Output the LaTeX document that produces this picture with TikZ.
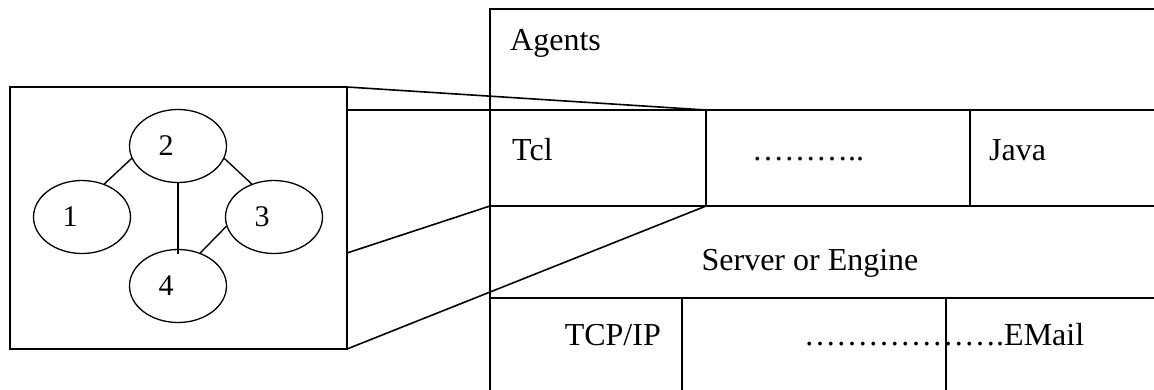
\documentclass[tikz,border=0pt]{standalone}
\usepackage{fontspec}
\setmainfont{Liberation Serif}
\usetikzlibrary{shapes.geometric}

\tikzset{
  frame/.style={line width=1.6pt, line cap=rect},
  blob/.style={draw, ellipse, line width=1.3pt, minimum width=97pt, minimum height=73pt, inner sep=0pt},
  link/.style={line width=1.4pt},
  digit/.style={inner sep=0pt, font=\fontsize{30}{34}\selectfont},
  cell/.style={inner sep=0pt, font=\fontsize{32}{37}\selectfont}
}

\begin{document}
\begin{tikzpicture}[x=1pt, y=-1pt]
  \useasboundingbox (0,0) rectangle (1154,389);

  % ---- layered architecture on the right ----
  \coordinate (tl)  at (490,9);
  \coordinate (tr)  at (1154,9);
  \coordinate (bl)  at (490,389);
  \coordinate (a1)  at (490,110);  \coordinate (a2) at (1154,110);
  \coordinate (b1)  at (490,206);  \coordinate (b2) at (1154,206);
  \coordinate (c1)  at (490,298);  \coordinate (c2) at (1154,298);
  \coordinate (tclR) at (706,110); \coordinate (tclRb) at (706,206);
  \coordinate (javL) at (970,110); \coordinate (javLb) at (970,206);
  \coordinate (tcpR) at (682,298); \coordinate (tcpRb) at (682,389);
  \coordinate (emL)  at (946,298); \coordinate (emLb)  at (946,389);

  \draw[frame] (tr) -- (tl) -- (bl);
  \draw[frame] (b1) -- (b2);
  \draw[frame] (c1) -- (c2);
  \draw[frame] (tclR) -- (tclRb);
  \draw[frame] (javL) -- (javLb);
  \draw[frame] (tcpR) -- (tcpRb);
  \draw[frame] (emL) -- (emLb);

  \node[cell, anchor=base west] (agents) at (510,50) {Agents};
  \node[cell, anchor=base west] (tcl)    at (512,160) {Tcl};
  \node[cell, anchor=base west] (more)   at (752,160) {………..};
  \node[cell, anchor=base west] (java)   at (989,160) {Java};
  \node[cell, anchor=base]      (server) at (810,270) {Server or Engine};
  \node[cell, anchor=base east] (tcp)    at (661,345) {TCP/IP};
  \node[cell, anchor=base west] (email)  at (804,345) {……………….EMail};

  % ---- magnified view of the agent network ----
  \coordinate (zTL) at (10,87);
  \coordinate (zTR) at (347,87);
  \coordinate (zBR) at (347,349);
  \coordinate (zBL) at (10,349);
  \coordinate (zA)  at (347,110);
  \coordinate (zB)  at (347,253);
  \draw[frame] (zTL) -- (zTR) -- (zBR) -- (zBL) -- cycle;

  % projection lines onto the Tcl cell
  \draw[frame] (zA) -- (a2);
  \draw[frame] (zTR) -- (tclR);
  \draw[frame] (zB) -- (b1);
  \draw[frame] (zBR) -- (tclRb);

  \node[blob, label={[digit, xshift=-12pt]center:2}] (n2) at (178,146) {};
  \node[blob, label={[digit, xshift=-12pt]center:1}] (n1) at (82,217) {};
  \node[blob, label={[digit, xshift=-12pt]center:3}] (n3) at (274,217) {};
  \node[blob, label={[digit, xshift=-12pt]center:4}] (n4) at (178,286) {};

  \draw[link] (n1.56) -- (n2.195);
  \draw[link] (n2.-15) -- (n3.124);
  \draw[link] (n2.south) -- ([yshift=-5pt]n4.north);
  \draw[link] (n3.191) -- (n4.56);
\end{tikzpicture}
\end{document}
